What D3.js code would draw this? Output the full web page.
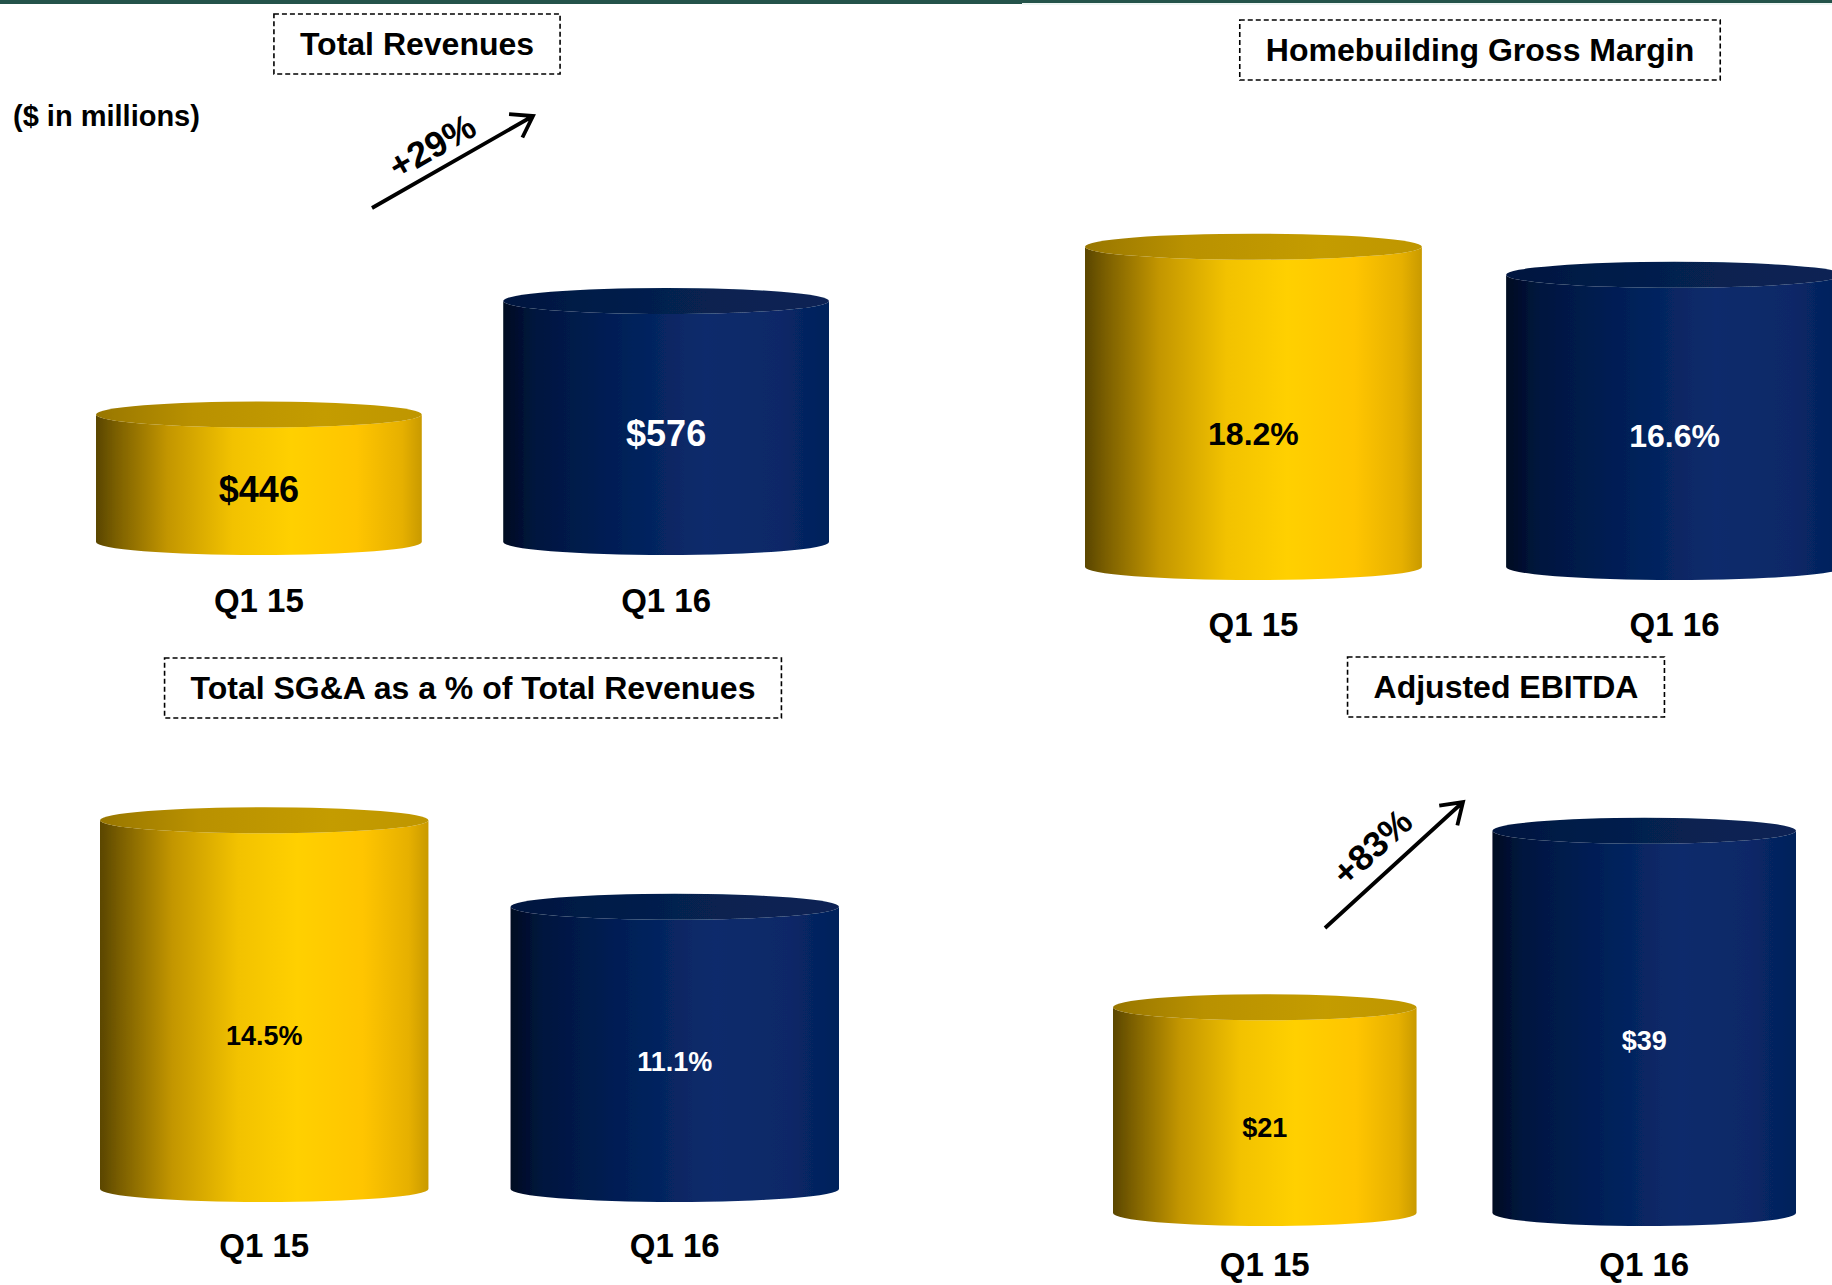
<!DOCTYPE html>
<html>
<head>
<meta charset="utf-8">
<script src="https://cdn.jsdelivr.net/npm/d3@7"></script>
<style>
  html, body { margin: 0; padding: 0; background: #ffffff; }
  svg { display: block; font-family: "Liberation Sans", Arial, Helvetica, sans-serif; font-weight: bold; }
</style>
</head>
<body>
<svg id="chart" width="1832" height="1285"></svg>
<script>
// Quarters compared in every panel
const categories = ["Q1 15", "Q1 16"];

// Series, one per panel
const totalRevenues   = [446, 576];    // $ in millions
const grossMarginPct  = [18.2, 16.6];  // homebuilding gross margin, %
const sgaPctOfRevenue = [14.5, 11.1];  // SG&A as % of revenues
const adjustedEbitda  = [21, 39];      // $ in millions

// Panel titles and callouts
const panelTitles = [
  "Total Revenues",
  "Homebuilding Gross Margin",
  "Total SG&A as a % of Total Revenues",
  "Adjusted EBITDA"
];
const growthCallouts = ["+29%", "+83%"];
const unitsNote = "($ in millions)";

// ---------------------------------------------------------------------------
const W = 1832, H = 1285;
const svg = d3.select("#chart");

const dollars = v => "$" + d3.format("d")(v);
const percent = v => d3.format(".1f")(v) + "%";

// Layout of the four panels: horizontal band range, value scale domain/range
const panels = [
  { title: panelTitles[0], values: totalRevenues, fmt: dollars,
    xr: [96, 829], domain: [300, 600], yr: [542, 280], labelSize: 36, catGap: 58,
    titleAt: [417, 44],
    growth: { text: growthCallouts[0], from: [372, 208], to: [533, 116], at: [432, 146] } },
  { title: panelTitles[1], values: grossMarginPct, fmt: percent,
    xr: [1085, 1843], domain: [0, 20], yr: [567, 215], labelSize: 32, catGap: 57,
    titleAt: [1480, 50] },
  { title: panelTitles[2], values: sgaPctOfRevenue, fmt: percent,
    xr: [100, 839], domain: [0, 15], yr: [1189, 807.5], labelSize: 27, catGap: 56,
    titleAt: [473, 688] },
  { title: panelTitles[3], values: adjustedEbitda, fmt: dollars,
    xr: [1113, 1796], domain: [0, 40], yr: [1213, 821], labelSize: 27, catGap: 51,
    titleAt: [1506, 687],
    growth: { text: growthCallouts[1], from: [1325, 928], to: [1463, 802], at: [1372, 847] } }
];

// Cylinder skins: gold for the prior-year quarter, navy for the current one
const skins = [
  { side: "sideGold", top: "topGold", label: "#000000" },
  { side: "sideNavy", top: "topNavy", label: "#ffffff" }
];
const labelFrac = [0.585, 0.55];
const RY = 13;

const defs = svg.append("defs");
function gradient(id, stops) {
  const g = defs.append("linearGradient").attr("id", id)
    .attr("x1", 0).attr("y1", 0).attr("x2", 1).attr("y2", 0);
  stops.forEach(([o, c]) => g.append("stop").attr("offset", o).attr("stop-color", c));
}
gradient("sideGold", [[0, "#5a4600"], [0.07, "#7f6200"], [0.22, "#c39600"], [0.42, "#f2c200"],
                      [0.6, "#ffd000"], [0.8, "#ffc500"], [0.94, "#e6b000"], [1, "#c99a00"]]);
gradient("topGold",  [[0, "#987600"], [0.3, "#b99100"], [0.7, "#c49c00"], [1, "#bf9600"]]);
gradient("sideNavy", [[0, "#000a22"], [0.1, "#01163f"], [0.35, "#021f57"], [0.62, "#0b2c6c"],
                      [0.85, "#082867"], [1, "#04205a"]]);
gradient("topNavy",  [[0, "#03163f"], [0.5, "#06204f"], [1, "#0a2454"]]);

const soft = defs.append("filter").attr("id", "soft");
soft.append("feGaussianBlur").attr("stdDeviation", 0.6);

// Top rule
svg.append("rect").attr("x", 0).attr("y", 0).attr("width", 1022).attr("height", 4).attr("fill", "#24534a");
svg.append("rect").attr("x", 1022).attr("y", 0).attr("width", W - 1022).attr("height", 3).attr("fill", "#24534a");
svg.append("rect").attr("x", 1022).attr("y", 3).attr("width", W - 1022).attr("height", 2).attr("fill", "#eef5f3");

// Units note
svg.append("text").attr("x", 13).attr("y", 116).attr("dy", "0.35em")
  .attr("font-size", 29).attr("fill", "#000").text(unitsNote);

function sidePath(x0, x1, yTop, yBase) {
  const rx = (x1 - x0) / 2;
  return `M${x0},${yTop} L${x0},${yBase} A${rx},${RY} 0 0 0 ${x1},${yBase}` +
         ` L${x1},${yTop} A${rx},${RY} 0 0 1 ${x0},${yTop} Z`;
}

panels.forEach(p => {
  const g = svg.append("g");
  const x = d3.scaleBand().domain(categories).range(p.xr).paddingInner(0.2).paddingOuter(0);
  const y = d3.scaleLinear().domain(p.domain).range(p.yr);
  const base = y(p.domain[0]);
  const bw = x.bandwidth();

  const rows = categories.map((c, i) => ({ c, v: p.values[i], i }));

  const cyl = g.selectAll("g.cyl").data(rows).join("g").attr("class", "cyl")
    .attr("filter", "url(#soft)");
  cyl.append("path")
    .attr("d", d => sidePath(x(d.c), x(d.c) + bw, y(d.v), base))
    .attr("fill", d => `url(#${skins[d.i].side})`);
  cyl.append("ellipse")
    .attr("cx", d => x(d.c) + bw / 2).attr("cy", d => y(d.v))
    .attr("rx", bw / 2).attr("ry", RY)
    .attr("fill", d => `url(#${skins[d.i].top})`);

  // Value labels inside the cylinders
  g.selectAll("text.value").data(rows).join("text").attr("class", "value")
    .attr("x", d => x(d.c) + bw / 2)
    .attr("y", d => y(d.v) + (base - y(d.v)) * labelFrac[d.i])
    .attr("dy", "0.35em").attr("text-anchor", "middle")
    .attr("font-size", p.labelSize).attr("fill", d => skins[d.i].label)
    .text(d => p.fmt(d.v));

  // Category labels below
  g.selectAll("text.cat").data(rows).join("text").attr("class", "cat")
    .attr("x", d => x(d.c) + bw / 2).attr("y", base + p.catGap)
    .attr("dy", "0.35em").attr("text-anchor", "middle")
    .attr("font-size", 33).attr("fill", "#000")
    .text(d => d.c);

  // Title in a dashed box
  const tg = g.append("g");
  const rect = tg.append("rect");
  const tt = tg.append("text").attr("x", p.titleAt[0]).attr("y", p.titleAt[1])
    .attr("dy", "0.35em").attr("text-anchor", "middle")
    .attr("font-size", 32).attr("fill", "#000").text(p.title);
  const bb = tt.node().getBBox();
  rect.attr("x", p.titleAt[0] - bb.width / 2 - 26).attr("y", p.titleAt[1] - 30)
    .attr("width", bb.width + 52).attr("height", 60)
    .attr("fill", "#fff").attr("stroke", "#000").attr("stroke-width", 1.6)
    .attr("stroke-dasharray", "5,3");

  // Growth arrow with rotated callout
  if (p.growth) {
    const [x0, y0] = p.growth.from, [x1, y1] = p.growth.to;
    const ang = Math.atan2(y1 - y0, x1 - x0);
    const hl = 24, ha = 34 * Math.PI / 180;
    const hx1 = x1 - hl * Math.cos(ang - ha), hy1 = y1 - hl * Math.sin(ang - ha);
    const hx2 = x1 - hl * Math.cos(ang + ha), hy2 = y1 - hl * Math.sin(ang + ha);
    g.append("path")
      .attr("d", `M${x0},${y0} L${x1},${y1} M${hx1},${hy1} L${x1},${y1} L${hx2},${hy2}`)
      .attr("fill", "none").attr("stroke", "#000").attr("stroke-width", 3.8)
      .attr("stroke-linejoin", "miter");
    g.append("text")
      .attr("transform", `translate(${p.growth.at[0]},${p.growth.at[1]}) rotate(${ang * 180 / Math.PI})`)
      .attr("dy", "0.35em").attr("text-anchor", "middle")
      .attr("font-size", 36).attr("fill", "#000").text(p.growth.text);
  }
});
</script>
</body>
</html>
